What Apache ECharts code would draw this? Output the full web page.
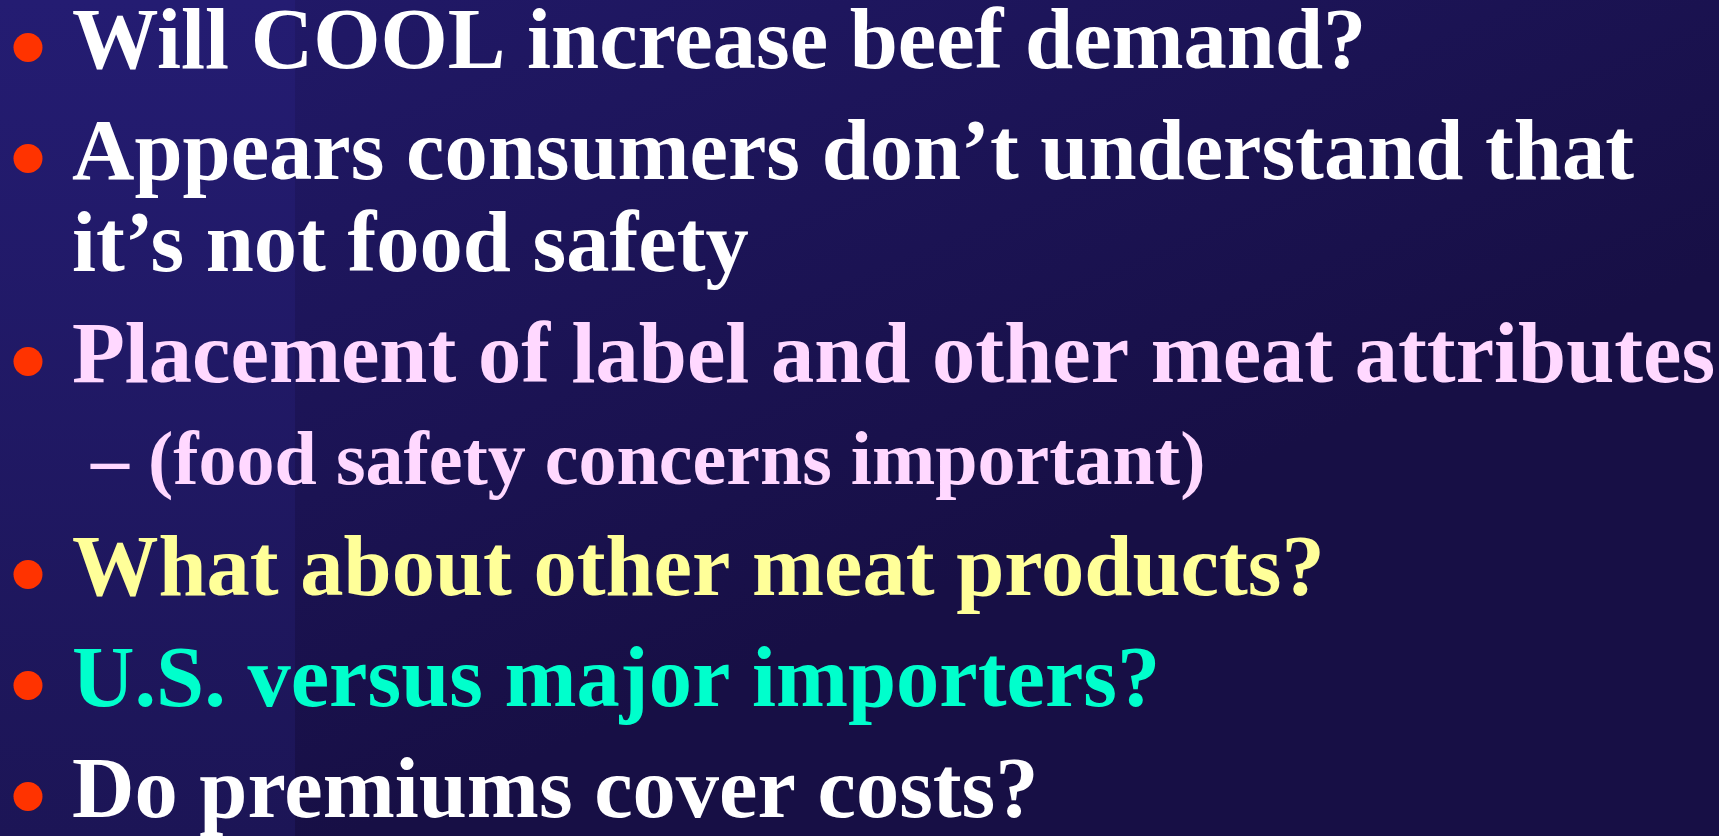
<!DOCTYPE html>
<html>
<head>
<meta charset="utf-8">
<title>COOL questions</title>
<script src="https://cdn.jsdelivr.net/npm/echarts@6/dist/echarts.min.js"></script>
<style>
  html, body { margin: 0; padding: 0; background: #1e1660; }
  #main { width: 1719px; height: 836px; }
</style>
</head>
<body>
<div id="main"></div>
<script>
// slide lines, one entry per printed line
var lineTexts = [
  'Will COOL increase beef demand?',
  'Appears consumers don\u2019t understand that',
  'it\u2019s not food safety',
  'Placement of label and other meat attributes',
  '\u2013 (food safety concerns important)',
  'What about other meat products?',
  'U.S. versus major importers?',
  'Do premiums cover costs?'
];
// bullet = new point, wrap = continuation, sub = second level
var lineKinds = ['bullet', 'bullet', 'wrap', 'bullet', 'sub', 'bullet', 'bullet', 'bullet'];
var lineTones = ['white', 'white', 'white', 'pink', 'pink', 'yellow', 'cyan', 'white'];

// styles
var toneColors = { white: '#ffffff', pink: '#ffd8ff', yellow: '#ffff99', cyan: '#00ffcc' };
var bulletColor = '#ff3300';
var mainSize = 86.5, subSize = 76;
var gaps = { bullet: 111, wrap: 92, sub: 102 };
var firstBaseline = 67;

var chart = echarts.init(document.getElementById('main'));

var elements = [];
// background: darker towards the bottom, lighter strip on the left
elements.push({
  type: 'rect', shape: { x: 0, y: 0, width: 1719, height: 836 },
  style: { fill: new echarts.graphic.LinearGradient(0, 0, 0.2, 1, [
    { offset: 0, color: '#221a6c' }, { offset: 1, color: '#170f45' }]) },
  silent: true
});
elements.push({
  type: 'rect', shape: { x: 0, y: 0, width: 295, height: 836 },
  style: { fill: new echarts.graphic.LinearGradient(0, 0, 0, 1, [
    { offset: 0, color: '#241c72' }, { offset: 1, color: '#1c1556' }]) },
  silent: true
});

var baseline = firstBaseline;
lineTexts.forEach(function (txt, i) {
  var kind = lineKinds[i];
  if (i > 0) baseline += gaps[kind];
  var size = kind === 'sub' ? subSize : mainSize;
  var x = kind === 'sub' ? 91 : 72;
  if (kind === 'bullet') {
    elements.push({
      type: 'circle',
      shape: { cx: 28, cy: baseline - 19.5, r: 14.5 },
      style: { fill: bulletColor }, silent: true
    });
  }
  elements.push({
    type: 'text',
    x: x, y: baseline - size * 0.25,
    style: {
      text: txt,
      fill: toneColors[lineTones[i]],
      font: 'bold ' + size + 'px "Liberation Serif", "Times New Roman", serif',
      verticalAlign: 'middle',
      align: 'left'
    },
    silent: true
  });
});

chart.setOption({
  animation: false,
  graphic: { elements: elements }
});
</script>
</body>
</html>
